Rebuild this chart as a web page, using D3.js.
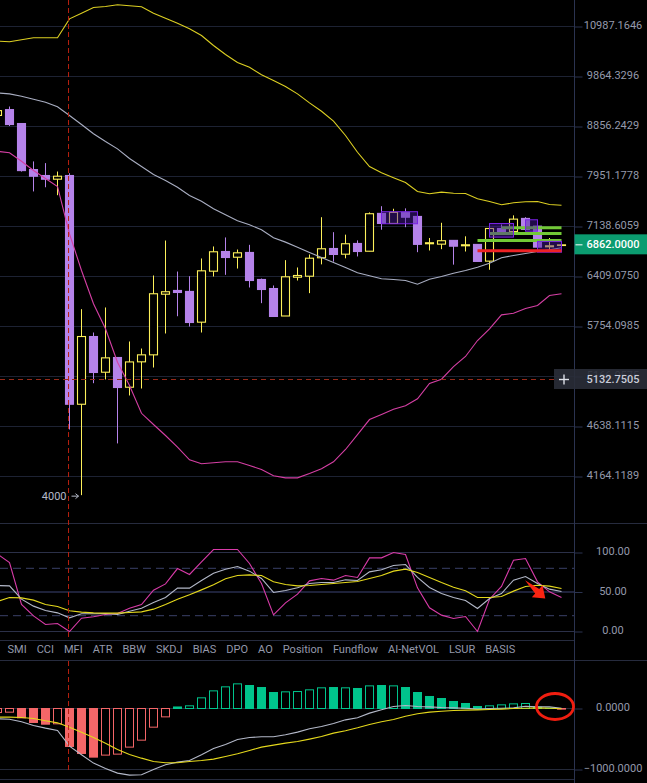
<!DOCTYPE html>
<html>
<head>
<meta charset="utf-8">
<style>
  html, body { margin: 0; padding: 0; background: #000; overflow: hidden; }
  svg { display: block; font-family: Roboto, sans-serif; }
</style>
<script src="https://cdn.jsdelivr.net/npm/d3@7"></script>
</head>
<body>
<div id="graphicContainer"></div>
<script>
// candles
var open_ = [9070,9185,8913,8071,7968,7905,7968,4866,5631,5214,5382,5048,5332,5413,6169,6219,6206,5808,6483,6764,6681,6750,6368,6245,5886,6399,6413,6673,6808,6725,6882,6768,7343,7186,7359,7295,6878,6872,6928,6848,6868,6625,7108,7062,7264,7144,6833,6852]
var close_ = [9165,8894,8053,7956,7905,7956,4866,5631,5211,5378,5045,5331,5413,6175,6202,6192,5804,6488,6760,6677,6745,6354,6232,5880,6405,6423,6667,6804,6721,6878,6764,7338,7186,7359,7283,6869,6893,6923,6842,6863,6621,7108,7018,7253,7093,6828,6848,6862]
var high_ = [9226,9246,8913,8214,8184,8037,8008,5973,5680,5995,5382,5571,5487,6423,6926,6478,6413,6663,6838,6972,6793,6862,6381,6286,6639,6535,6721,7283,7052,7014,6928,7359,7458,7417,7423,7295,6964,7196,6928,6989,6868,7108,7170,7312,7283,7144,6964,6862]
var low_ = [9008,8866,8036,7699,7769,7637,4608,4000,5092,5133,4472,4959,5034,5267,5668,5883,5754,5680,6409,6432,6520,6259,6051,5880,5886,6354,6183,6579,6618,6665,6692,6768,7089,7186,7128,6754,6779,6798,6575,6764,6621,6503,7018,7062,7093,6828,6779,6852]

// bands
var bandUpper = [10646,10632,10678,10724,10724,10724,11170,11306,11447,11472,11514,11489,11465,11306,11185,11065,10933,10777,10546,10344,10165,10063,9900,9780,9654,9502,9320,9153,8958,8686,8378,8124,8015,7929,7849,7698,7660,7687,7670,7665,7578,7534,7481,7513,7529,7534,7485,7474]
var bandMid = [9522,9502,9453,9392,9332,9241,9068,8894,8718,8573,8440,8266,8124,7985,7883,7770,7632,7539,7417,7321,7227,7165,7088,6967,6902,6827,6750,6678,6607,6534,6460,6419,6377,6368,6354,6304,6372,6409,6455,6492,6538,6596,6673,6706,6735,6764,6789,6818]
var bandLower = [8396,8368,8217,8054,7917,7782,7027,6492,6043,5726,5327,5067,4772,4658,4549,4436,4317,4280,4289,4298,4298,4264,4227,4170,4152,4152,4191,4234,4298,4414,4558,4708,4760,4813,4851,4924,5089,5136,5278,5394,5583,5726,5900,5920,5982,6021,6152,6175]

// oscillator
var oscFast = [97.9,87.3,34.2,19.8,8.9,10.1,0,16.9,18.6,21.5,22.8,29.5,34.2,52.3,60.3,79.7,72.2,88.2,103.8,103.8,103.8,86.1,60.8,21.1,36.3,47.3,64.1,67.1,65,70.9,68.4,93.2,93.2,100,97.5,55.3,30,20.7,16.5,19,0,40.9,57,90.3,92.4,62.9,50.2,43]
var oscMid = [58.2,57.8,40.9,32.1,26.6,23.6,17.3,22.4,22.4,22.8,21.5,25.7,29.5,36.7,43,54.9,54.9,64.6,73.8,78.9,82.3,76.4,67.1,49.4,51.9,55.3,60.8,62,62,65.4,64.6,75.5,78.1,83.5,84.8,68.4,55.7,48.1,43,39.2,29.1,41.8,48.1,65,69.6,60.8,53.6,50.6]
var oscSlow = [38,43,42.6,39.7,34.2,31.6,26.2,24.5,23.6,23.2,23.2,24.1,24.9,28.3,34.2,40.9,46.4,52.7,59.1,66.7,70.9,71.7,70.9,62.9,59.5,57.8,58.2,59.5,60.8,62,63.3,67.1,70.9,76.4,78.9,74.7,68.4,62,56.1,51.5,43,43,44.3,51.1,57,58.6,57.4,54.4]

// macd
var macdHist = [-66,-60,-153,-229,-257,-251,-622,-737,-797,-764,-748,-633,-519,-306,-137,25,44,175,289,355,404,377,344,262,273,278,306,339,344,339,328,371,377,371,344,262,197,164,115,82,33,44,60,76,82,22,5,-10]
var macdSolid = [0,0,1,1,1,0,1,1,1,0,0,0,0,0,0,1,0,0,0,0,0,1,1,1,0,0,0,0,1,0,1,0,1,0,1,1,1,1,1,1,1,0,0,0,0,1,1,1]
var macdLine = [-169,-175,-218,-278,-322,-360,-617,-759,-895,-983,-1059,-1092,-1087,-999,-923,-879,-852,-759,-655,-590,-508,-475,-464,-464,-431,-387,-333,-295,-246,-186,-153,-76,-22,33,49,33,27,16,11,5,-11,0,5,11,38,27,27,5]
var macdSignal = [-142,-142,-147,-164,-202,-235,-306,-388,-475,-568,-672,-753,-814,-868,-890,-890,-868,-852,-830,-786,-743,-688,-633,-601,-568,-541,-502,-459,-404,-366,-317,-262,-218,-180,-126,-87,-60,-44,-33,-27,-22,-16,-11,0,5,11,5,-5]

// axes
var priceTicks = [10987.1646,9864.3296,8856.2429,7951.1778,7138.6059,6409.0750,5754.0985,5166.0575,4638.1115,4164.1189]
var oscTicks = [100,50,0]
var oscDashed = [80,20]
var macdTicks = [0,-1000]
var tabs = ["SMI","CCI","MFI","ATR","BBW","SKDJ","BIAS","DPO","AO","Position","Fundflow","AI-NetVOL","LSUR","BASIS"]

// drawn on top of the chart
var lastPrice = 6862
var crossIdx = 5.92
var crossPrice = 5132.7505
var lowMark = 4000
var greenLevels = [[42,7119],[41,7032],[40,6928]]
var redLevels = [[40,6774]]
var boxes = [[32,35,7370,7181],[41,43,7185,6977],[44,45,7243,7067],[45,47,6913,6754]]
var lastIdx = 47
var arrowFrom = [43.96,64.9]
var arrowTo = [45.65,41.8]
var ringAt = [46.46,33]

var width = 647, height = 783, axisX = 574.5

var gridCol = "#1d2233", axisCol = "#2b3350", textCol = "#9499ab"
var upCol = "#fdf05a", downCol = "#b583ea"

var svg = d3.select("#graphicContainer").append("svg")
	.attr("width", width)
	.attr("height", height)
	.style("background", "#000")

var x = d3.scaleLinear().domain([0, lastIdx]).range([-2.5, 561.5])
var y = d3.scaleLog().domain([4164.1189, 10987.1646]).range([476.5, 26.5])
var yOsc = d3.scaleLinear().domain([0, 100]).range([631.5, 552.5])
var yMacd = d3.scaleLinear().domain([-1000, 0]).range([769.5, 708.5])

function lineOf(scale) {
	return d3.line().x((d, i) => x(i)).y(d => scale(d))
}

function hline(yPos, col, x2, dash) {
	svg.append("line")
		.attr("x1", 0).attr("x2", x2 === undefined ? axisX : x2)
		.attr("y1", yPos).attr("y2", yPos)
		.attr("stroke", col)
		.attr("stroke-dasharray", dash || null)
}

// grid + panel frames
priceTicks.forEach(t => hline(y(t), gridCol))
hline(523.5, "#262b3e", width)
hline(640.5, "#262b3e")
hline(660.5, "#262b3e", width)
hline(779.5, "#262b3e")
oscTicks.forEach(t => hline(yOsc(t), t == 50 ? "#3d4474" : "#2b3048"))
oscDashed.forEach(t => hline(yOsc(t), "#3a4068", axisX, "8,5"))
macdTicks.forEach(t => hline(yMacd(t), "#242939"))

// candles
var candles = svg.append("g").selectAll("g")
	.data(d3.range(open_.length))
	.join("g")
	.attr("stroke", i => close_[i] >= open_[i] ? upCol : downCol)

candles.append("line")
	.attr("x1", i => x(i)).attr("x2", i => x(i))
	.attr("y1", i => y(high_[i])).attr("y2", i => y(low_[i]))

candles.append("rect")
	.attr("x", i => x(i) - 4)
	.attr("width", 8)
	.attr("y", i => y(Math.max(open_[i], close_[i])))
	.attr("height", i => Math.abs(y(open_[i]) - y(close_[i])))
	.attr("fill", i => close_[i] >= open_[i] ? "#000" : downCol)
	.attr("stroke-width", 1.1)

// bands
function drawLine(values, scale, col) {
	svg.append("path")
		.attr("d", lineOf(scale)(values))
		.attr("fill", "none")
		.attr("stroke", col)
		.attr("stroke-width", 1.1)
}
drawLine(bandUpper, y, "#dccf22")
drawLine(bandMid, y, "#a9aec2")
drawLine(bandLower, y, "#d53fa4")

// levels and zones on the right
function drawLevel(d, col) {
	svg.append("line")
		.attr("x1", x(d[0])).attr("x2", x(lastIdx))
		.attr("y1", y(d[1])).attr("y2", y(d[1]))
		.attr("stroke", col)
		.attr("stroke-width", 3)
}
greenLevels.forEach(d => drawLevel(d, "#72c936"))

svg.append("g").selectAll("rect")
	.data(boxes)
	.join("rect")
	.attr("x", d => x(d[0]))
	.attr("width", d => x(d[1]) - x(d[0]))
	.attr("y", d => y(d[2]))
	.attr("height", d => y(d[3]) - y(d[2]))
	.attr("fill", "#4a18a0")
	.attr("fill-opacity", 0.45)
	.attr("stroke", "#7a22e6")

redLevels.forEach(d => drawLevel(d, "#ee2225"))

// oscillator lines
drawLine(oscFast, yOsc, "#d83ba8")
drawLine(oscMid, yOsc, "#b3b8c8")
drawLine(oscSlow, yOsc, "#e4d81c")

// macd
svg.append("g").selectAll("rect")
	.data(macdHist)
	.join("rect")
	.attr("x", (d, i) => x(i) - 4)
	.attr("width", 8)
	.attr("y", d => yMacd(Math.max(d, 0)))
	.attr("height", d => Math.abs(yMacd(d) - yMacd(0)))
	.attr("fill", (d, i) => macdSolid[i] ? (d >= 0 ? "#00c48c" : "#f46668") : "none")
	.attr("stroke", d => d >= 0 ? "#00c48c" : "#f46668")
drawLine(macdLine, yMacd, "#b3b8c8")
drawLine(macdSignal, yMacd, "#e4d81c")

// tab row, spaced by text width
var tabX = 7.5
tabs.forEach(t => {
	var label = svg.append("text")
		.attr("x", tabX).attr("y", 653)
		.attr("fill", textCol)
		.attr("font-size", 11)
		.text(t)
	tabX += label.node().getComputedTextLength() + 10
})

// low marker
var lowX = x(7) - 3, lowY = y(lowMark) + 1
svg.append("text")
	.attr("x", lowX - 12).attr("y", lowY + 3.5)
	.attr("text-anchor", "end")
	.attr("fill", "#b4b9c8")
	.attr("font-size", 11)
	.text(d3.format("d")(lowMark))
svg.append("path")
	.attr("d", `M${lowX - 7},${lowY}H${lowX}M${lowX - 3},${lowY - 2.5}L${lowX},${lowY}L${lowX - 3},${lowY + 2.5}`)
	.attr("fill", "none")
	.attr("stroke", "#b4b9c8")

// crosshair
var crossCol = "#b8200f"
svg.append("line").attr("x1", x(crossIdx)).attr("x2", x(crossIdx)).attr("y1", 0).attr("y2", 640)
	.attr("stroke", crossCol).attr("stroke-dasharray", "5,3")
svg.append("line").attr("x1", x(crossIdx)).attr("x2", x(crossIdx)).attr("y1", 661).attr("y2", 773)
	.attr("stroke", crossCol).attr("stroke-dasharray", "5,3")
hline(y(crossPrice), "#962a1a", 555, "5,4")

// right axis
function drawAxis(scale, ticks, fmt) {
	var g = svg.append("g")
		.attr("transform", `translate(${axisX},0)`)
		.call(d3.axisRight(scale).tickValues(ticks).tickFormat(fmt).tickSize(8))
	g.select(".domain").remove()
	g.selectAll("line").attr("stroke", axisCol)
	g.selectAll("text")
		.attr("x", 38.5)
		.attr("dy", "0.22em")
		.attr("text-anchor", "middle")
		.attr("fill", textCol)
		.attr("font-family", "Roboto, sans-serif")
		.attr("font-size", 11)
	return g
}
drawAxis(y, priceTicks, d3.format(".4f"))
drawAxis(yOsc, oscTicks, d3.format(".2f"))
drawAxis(yMacd, macdTicks, d3.format(".4f"))

svg.append("line")
	.attr("x1", axisX).attr("x2", axisX)
	.attr("y1", 0).attr("y2", height)
	.attr("stroke", axisCol)

// last price tag
var lastY = y(lastPrice)
svg.append("rect")
	.attr("x", axisX).attr("y", lastY - 10.5)
	.attr("width", width - axisX).attr("height", 20)
	.attr("fill", "#0b9c70")
svg.append("line")
	.attr("x1", axisX + 1).attr("x2", axisX + 8)
	.attr("y1", lastY).attr("y2", lastY)
	.attr("stroke", "#fff")
svg.append("text")
	.attr("x", axisX + 38.5).attr("y", lastY).attr("dy", "0.3em")
	.attr("text-anchor", "middle")
	.attr("fill", "#fff")
	.attr("font-weight", 500)
	.attr("font-size", 11)
	.text(d3.format(".4f")(lastPrice))

// crosshair tag
var crossY = y(crossPrice)
svg.append("rect")
	.attr("x", 554).attr("y", crossY - 10.5)
	.attr("width", width - 554).attr("height", 20)
	.attr("fill", "#2a2e39")
	.attr("fill-opacity", 0.9)
svg.append("line").attr("x1", 559).attr("x2", 569).attr("y1", crossY).attr("y2", crossY)
	.attr("stroke", "#dde0e8").attr("stroke-width", 1.4)
svg.append("line").attr("x1", 564).attr("x2", 564).attr("y1", crossY - 5).attr("y2", crossY + 5)
	.attr("stroke", "#dde0e8").attr("stroke-width", 1.4)
svg.append("text")
	.attr("x", axisX + 38.5).attr("y", crossY).attr("dy", "0.3em")
	.attr("text-anchor", "middle")
	.attr("fill", "#c9ccd8")
	.attr("font-weight", 500)
	.attr("font-size", 11)
	.text(d3.format(".4f")(crossPrice))

// hand drawn arrow
var ax = x(arrowFrom[0]), ay = yOsc(arrowFrom[1]), bx = x(arrowTo[0]), by = yOsc(arrowTo[1])
var len = Math.hypot(bx - ax, by - ay)
var ux = (bx - ax) / len, uy = (by - ay) / len
var hx = ax + ux * len * 0.6, hy = ay + uy * len * 0.6
svg.append("path")
	.attr("d", d3.line()([
		[ax, ay],
		[hx - uy * 3, hy + ux * 3],
		[hx - uy * 8, hy + ux * 8],
		[bx, by],
		[hx + uy * 8, hy - ux * 8],
		[hx + uy * 3, hy - ux * 3]
	]) + "Z")
	.attr("fill", "#fa2412")

// hand drawn ring
svg.append("ellipse")
	.attr("cx", x(ringAt[0])).attr("cy", yMacd(ringAt[1]))
	.attr("rx", 18.5).attr("ry", 13)
	.attr("fill", "none")
	.attr("stroke", "#f01e10")
	.attr("stroke-width", 2.8)
</script>
</body>
</html>
